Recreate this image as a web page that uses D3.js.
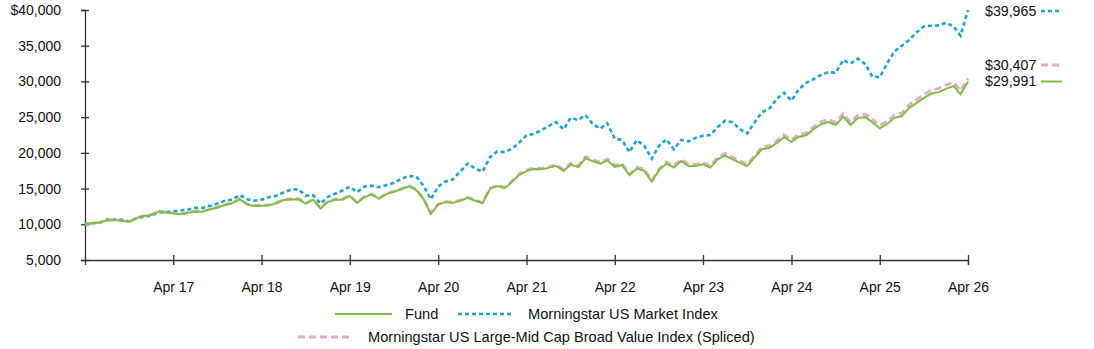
<!DOCTYPE html>
<html>
<head>
<meta charset="utf-8">
<script src="https://cdn.jsdelivr.net/npm/d3@7"></script>
<style>
  body { margin: 0; background: #fff; }
  svg { font-family: "Liberation Sans", Arial, sans-serif; }
  .axis text { font-size: 14px; fill: #111; }
  .axis path, .axis line { stroke: #333; stroke-width: 1.3; }
</style>
</head>
<body>
<div id="chart"></div>
<script>
// monthly values, Apr 2016 .. Apr 2026
var startMonth = new Date(2016, 3, 1);
var fund = [10000, 10150, 10250, 10550, 10600, 10500, 10350, 10900, 11150, 11300, 11800, 11650,
  11550, 11400, 11600, 11800, 11750, 12100, 12350, 12700, 12950, 13500, 12750, 12550,
  12600, 12650, 12950, 13400, 13480, 13500, 12900, 13450, 12200, 13150, 13450, 13450,
  13950, 13000, 13800, 14150, 13600, 14250, 14550, 14900, 15300, 14800, 13500, 11500,
  12750, 13100, 13000, 13300, 13700, 13300, 12950, 14950, 15350, 15050, 15950, 16900,
  17450, 17750, 17700, 17900, 18200, 17500, 18350, 18000, 19250, 18800, 18500, 18950,
  18050, 18300, 16850, 17800, 17500, 15950, 17550, 18500, 17950, 18850, 18150, 18150,
  18400, 17950, 19100, 19650, 19100, 18600, 18150, 19400, 20500, 20700, 21400, 22200,
  21550, 22250, 22450, 23300, 24000, 24300, 23900, 25100, 23900, 24900, 25000, 24300,
  23450, 24000, 24900, 25150, 26300, 27000, 27700, 28300, 28500, 29000, 29350, 28200,
  29991];
var market = [10000, 10150, 10250, 10650, 10650, 10650, 10400, 10850, 11050, 11250, 11700, 11700,
  11800, 11950, 12050, 12300, 12300, 12600, 12900, 13300, 13450, 14100, 13500, 13300,
  13450, 13800, 14000, 14450, 14850, 14900, 14000, 14050, 12900, 13850, 14300, 14700,
  15250, 14500, 15300, 15400, 15200, 15500, 15800, 16400, 16750, 16700, 15350, 13500,
  15300, 16000, 16300, 17400, 18500, 17800, 17350, 19400, 20200, 20100, 20600, 21400,
  22450, 22650, 23150, 23750, 24300, 23300, 24900, 24600, 25300, 24000, 23400, 24150,
  22000, 21800, 20100, 21800, 21000, 19200, 21000, 21900, 20500, 21800, 21600, 22100,
  22400, 22500, 23600, 24500, 24300, 23300, 22700, 24300, 25700, 26200, 27600, 28400,
  27300, 28900, 29800, 30300, 30900, 31300, 31200, 33000, 32500, 33200, 32400, 30700,
  30600, 32500, 34200, 35000, 35800, 36900, 37700, 37800, 37850, 38200, 37700, 36400,
  39965];
var valueIdx = [10000, 10160, 10240, 10580, 10640, 10520, 10380, 10950, 11220, 11360, 11850, 11700,
  11580, 11430, 11650, 11850, 11780, 12150, 12400, 12760, 13020, 13580, 12820, 12600,
  12650, 12700, 13000, 13470, 13560, 13580, 12960, 13520, 12260, 13230, 13520, 13530,
  14030, 13080, 13900, 14240, 13670, 14340, 14640, 15000, 15410, 14900, 13580, 11560,
  12820, 13180, 13080, 13400, 13800, 13390, 13040, 15060, 15460, 15160, 16070, 17030,
  17590, 17900, 17840, 18050, 18370, 17660, 18530, 18170, 19450, 19000, 18700, 19150,
  18240, 18500, 17020, 18000, 17690, 16130, 17760, 18730, 18170, 19090, 18380, 18370,
  18640, 18180, 19350, 19920, 19370, 18860, 18400, 19680, 20800, 21010, 21720, 22540,
  21830, 22560, 22780, 23640, 24360, 24670, 24270, 25500, 24280, 25300, 25410, 24700,
  23830, 24400, 25310, 25580, 26750, 27460, 28180, 28790, 29000, 29510, 29870, 28690,
  30407];
var yTicks = [5000, 10000, 15000, 20000, 25000, 30000, 35000, 40000];
var xTickYears = [2017, 2018, 2019, 2020, 2021, 2022, 2023, 2024, 2025, 2026];
var seriesNames = ["Fund", "Morningstar US Market Index", "Morningstar US Large-Mid Cap Broad Value Index (Spliced)"];
var endLabels = ["$29,991", "$39,965", "$30,407"];

var W = 1094, H = 349;
var margin = {top: 10, left: 85};
var plotW = 883, plotH = 250;

var colors = {fund: "#7cbf45", market: "#1aa3d6", value: "#eaa7c8"};

var svg = d3.select("#chart").append("svg")
    .attr("width", W)
    .attr("height", H);

var g = svg.append("g")
    .attr("transform", "translate(" + margin.left + "," + margin.top + ")");

var dates = fund.map(function (d, i) { return d3.timeMonth.offset(startMonth, i); });

var x = d3.scaleTime()
    .domain([startMonth, dates[dates.length - 1]])
    .range([0, plotW]);

var y = d3.scaleLinear()
    .domain([5000, 40000])
    .range([plotH, 0]);

var fmt = d3.format(",");

// axes
var xAxis = d3.axisBottom(x)
    .tickValues(xTickYears.map(function (yr) { return new Date(yr, 3, 1); }))
    .tickFormat(d3.timeFormat("Apr %y"))
    .tickSizeOuter(0)
    .tickSize(5)
    .tickPadding(17);

var yAxis = d3.axisLeft(y)
    .tickValues(yTicks)
    .tickFormat(function (d) { return d === 40000 ? "$" + fmt(d) : fmt(d); })
    .tickSizeOuter(0)
    .tickSize(4)
    .tickPadding(20);

var gx = g.append("g")
    .attr("class", "axis")
    .attr("transform", "translate(0," + plotH + ")")
    .call(xAxis);
gx.selectAll(".tick line").attr("y1", -5).attr("y2", 5);
gx.selectAll(".tick text").attr("fill", "#111");

var gy = g.append("g")
    .attr("class", "axis")
    .call(yAxis);
gy.selectAll(".tick line").attr("x1", -4).attr("x2", 4);
gy.selectAll(".tick text").attr("fill", "#111");

// lines
function lineFor(arr) {
    return d3.line()
        .x(function (d, i) { return x(dates[i]); })
        .y(function (d) { return y(d); })(arr);
}

g.append("path")
    .attr("d", lineFor(market))
    .attr("fill", "none")
    .attr("stroke", colors.market)
    .attr("stroke-width", 2.6)
    .attr("stroke-dasharray", "4,3");

g.append("path")
    .attr("d", lineFor(valueIdx))
    .attr("fill", "none")
    .attr("stroke", colors.value)
    .attr("stroke-width", 2.8)
    .attr("stroke-dasharray", "7,4");

g.append("path")
    .attr("d", lineFor(fund))
    .attr("fill", "none")
    .attr("stroke", colors.fund)
    .attr("stroke-width", 2);

// end labels on the right
var endItems = [
    {text: endLabels[1], y: 11, color: colors.market, dash: "4,3", w: 2.6},
    {text: endLabels[2], y: 65, color: colors.value, dash: "7,4", w: 2.8},
    {text: endLabels[0], y: 81.5, color: colors.fund, dash: null, w: 2}
];
endItems.forEach(function (d) {
    svg.append("text")
        .attr("x", 985)
        .attr("y", d.y)
        .attr("dy", "0.35em")
        .attr("font-size", 14.2)
        .attr("fill", "#111")
        .text(d.text);
    svg.append("line")
        .attr("x1", 1041).attr("x2", 1062)
        .attr("y1", d.y).attr("y2", d.y)
        .attr("stroke", d.color)
        .attr("stroke-width", d.w)
        .attr("stroke-dasharray", d.dash);
});

// legend
var legendItems = [
    {name: seriesNames[0], x1: 335, x2: 392, tx: 405, y: 314, color: colors.fund, dash: null, w: 2},
    {name: seriesNames[1], x1: 458, x2: 512, tx: 528, y: 314, color: colors.market, dash: "4,3", w: 2.6},
    {name: seriesNames[2], x1: 298, x2: 350, tx: 368, y: 337, color: colors.value, dash: "7,4", w: 2.8}
];
legendItems.forEach(function (d) {
    svg.append("line")
        .attr("x1", d.x1).attr("x2", d.x2)
        .attr("y1", d.y).attr("y2", d.y)
        .attr("stroke", d.color)
        .attr("stroke-width", d.w)
        .attr("stroke-dasharray", d.dash);
    svg.append("text")
        .attr("x", d.tx)
        .attr("y", d.y)
        .attr("dy", "0.35em")
        .attr("font-size", 14.6)
        .attr("fill", "#111")
        .text(d.name);
});
</script>
</body>
</html>
